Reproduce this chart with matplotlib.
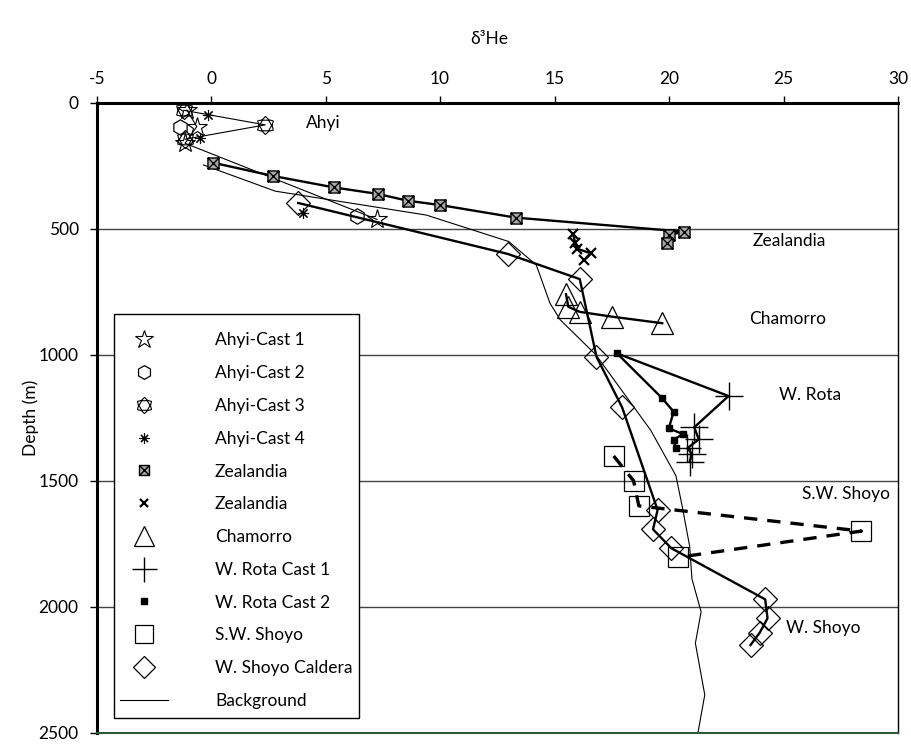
import matplotlib
matplotlib.use("Agg")
import matplotlib.pyplot as plt
from matplotlib.path import Path
from matplotlib.patches import Rectangle
import numpy as np

plt.rcParams['font.family'] = ['Lato', 'DejaVu Sans']
plt.rcParams['axes.unicode_minus'] = False

# ---------------- data ----------------
ahyi1_x = [-1.06, -0.63, -1.14, 7.24]
ahyi1_y = [29, 95, 161, 463]
ahyi2_x = [-1.35, 6.37]
ahyi2_y = [95, 450]
ahyi3_x = [-1.2, 2.36, -1.14]
ahyi3_y = [30, 88, 145]
ahyi4_x = [-0.12, -0.48, 4.0]
ahyi4_y = [49, 141, 437]
zeal1_x = [0.07, 2.72, 5.35, 7.28, 8.58, 10.0, 13.3, 20.67, 19.99, 19.9]
zeal1_y = [238, 291, 336, 362, 389, 406, 456, 512, 525, 558]
zeal2_x = [15.8, 15.9, 16.0, 16.6, 16.3]
zeal2_y = [520, 555, 580, 598, 624]
cham_x = [15.5, 15.6, 16.1, 17.5, 19.7]
cham_y = [760, 810, 830, 849, 875]
rota1_x = [17.73, 22.6, 21.1, 21.3, 20.8, 21.0, 20.9]
rota1_y = [995, 1164, 1288, 1336, 1371, 1394, 1424]
rota2_x = [17.73, 19.7, 20.2, 19.99, 20.6, 20.2, 20.3]
rota2_y = [995, 1173, 1226, 1292, 1315, 1338, 1371]
swshoyo_x = [17.58, 18.45, 18.68, 28.4, 20.4]
swshoyo_y = [1402, 1500, 1600, 1700, 1804]
wshoyo_x = [3.8, 12.95, 16.1, 16.83, 17.95, 19.5, 19.3, 20.1, 24.2, 24.3, 23.96, 23.56]
wshoyo_y = [398, 600, 700, 1008, 1209, 1616, 1693, 1768, 1971, 2046, 2103, 2152]
bg_x = [-0.34, 2.8, 9.4, 13.0, 14.2, 14.8, 15.25, 16.8, 19.2, 20.3, 20.57, 20.9, 21.0, 21.4, 21.15, 21.56, 21.27]
bg_y = [247, 351, 446, 551, 644, 796, 862, 1000, 1300, 1480, 1600, 1760, 1890, 2020, 2145, 2350, 2496]

site_labels = ["Ahyi", "Zealandia", "Chamorro", "W. Rota", "S.W. Shoyo", "W. Shoyo"]
site_lx = [4.15, 23.65, 23.5, 24.8, 25.8, 25.1]
site_ly = [82, 549, 859, 1160, 1553, 2084]

# ---------------- custom markers ----------------
def sun_marker():
    ang = np.deg2rad(np.arange(12) * 30 + 90)
    r = np.where(np.arange(12) % 2 == 0, 1.25, 0.92)
    outer = np.column_stack([r * np.cos(ang), r * np.sin(ang)])
    a2 = np.deg2rad(np.arange(6) * 60 + 120)
    inner = np.column_stack([0.85 * np.cos(a2), 0.85 * np.sin(a2)])
    verts = list(outer) + [outer[0]] + list(inner) + [inner[0]]
    codes = [Path.MOVETO] + [Path.LINETO] * 11 + [Path.CLOSEPOLY] + \
            [Path.MOVETO] + [Path.LINETO] * 5 + [Path.CLOSEPOLY]
    return Path(verts, codes)

def boxx_marker():
    verts = [(-1, -1), (1, -1), (1, 1), (-1, 1), (-1, -1),
             (-1, -1), (1, 1), (-1, 1), (1, -1)]
    codes = [Path.MOVETO, Path.LINETO, Path.LINETO, Path.LINETO, Path.CLOSEPOLY,
             Path.MOVETO, Path.LINETO, Path.MOVETO, Path.LINETO]
    return Path(verts, codes)

W, H = 911, 744
fig = plt.figure(figsize=(W / 100, H / 100), dpi=100)
ax = fig.add_axes([96.7 / W, 1 - 732.7 / H, (898 - 96.7) / W, (732.7 - 102.7) / H])

thin = 0.8
thick = 1.7
FS = 12.5

ax.plot(bg_x, bg_y, color='black', lw=0.8, label='Background', zorder=2)

ax.plot(ahyi1_x, ahyi1_y, color='black', lw=thin, marker='*', ms=15, mfc='none',
        mec='black', mew=0.8, label='Ahyi-Cast 1', zorder=4)
ax.plot(ahyi2_x, ahyi2_y, color='black', lw=0, marker='h', ms=11, mfc='none',
        mec='black', mew=0.9, label='Ahyi-Cast 2', zorder=4)
ax.plot(ahyi3_x, ahyi3_y, color='black', lw=thin, marker=sun_marker(), ms=13, mfc='none',
        mec='black', mew=0.8, label='Ahyi-Cast 3', zorder=4)
ax.plot(ahyi4_x, ahyi4_y, color='black', lw=0, marker=(8, 2, 0), ms=8,
        mec='black', mew=0.8, label='Ahyi-Cast 4', zorder=4)
ax.plot(zeal1_x, zeal1_y, color='black', lw=thick, marker=boxx_marker(), ms=8,
        mfc='#aaaaaa', mec='black', mew=1.0, label='Zealandia', zorder=4)
ax.plot(zeal2_x, zeal2_y, color='black', lw=thick, marker='x', ms=7,
        mec='black', mew=1.6, label='Zealandia', zorder=4)
ax.plot(cham_x, cham_y, color='black', lw=thick, marker='^', ms=16, mfc='none',
        mec='black', mew=0.9, label='Chamorro', zorder=4)
ax.plot(rota1_x, rota1_y, color='black', lw=thick, marker='+', ms=20,
        mec='black', mew=1.0, markevery=list(range(1, len(rota1_x))),
        label='W. Rota Cast 1', zorder=4)
ax.plot(rota2_x, rota2_y, color='black', lw=thick, marker='s', ms=5,
        mfc='black', mec='black', label='W. Rota Cast 2', zorder=5)
ax.plot(swshoyo_x, swshoyo_y, color='black', lw=2.4, ls=(0, (4, 3)), marker='s', ms=15,
        mfc='none', mec='black', mew=0.9, label='S.W. Shoyo', zorder=4)
ax.plot(wshoyo_x, wshoyo_y, color='black', lw=thick, marker='D', ms=12, mfc='none',
        mec='black', mew=0.9, label='W. Shoyo Caldera', zorder=4)

for t, x, y in zip(site_labels, site_lx, site_ly):
    ax.text(x, y, t, fontsize=FS, ha='left', va='center')

ax.set_xlim(-5, 30)
ax.set_ylim(2500, 0)
ax.set_xticks(np.arange(-5, 31, 5))
ax.set_yticks(np.arange(0, 2501, 500))
ax.xaxis.tick_top()
ax.xaxis.set_label_position('top')
ax.set_xlabel('δ³He', fontsize=FS)
ax.set_ylabel('Depth (m)', fontsize=FS)
ax.xaxis.set_label_coords(0.49, 1.093)
ax.yaxis.set_label_coords(-0.0725, 0.5)
ax.tick_params(axis='both', labelsize=12.5, direction='out', length=5, width=1)
ax.tick_params(axis='x', pad=6)
ax.tick_params(axis='y', pad=8)

for yv in [500, 1000, 1500, 2000]:
    ax.axhline(yv, color='#444444', lw=1.0, zorder=1)

ax.spines['top'].set_linewidth(2.2)
ax.spines['left'].set_linewidth(2.2)
ax.spines['right'].set_linewidth(1.0)
ax.spines['bottom'].set_linewidth(1.5)
ax.spines['bottom'].set_color('#2d5a3d')

# legend frame drawn separately
frame = Rectangle((114 / W, 1 - 718 / H), (359 - 114) / W, (718 - 314) / H,
                  transform=fig.transFigure, facecolor='white', edgecolor='black',
                  lw=1.0, zorder=4.5)
ax.add_patch(frame)
frame.set_clip_on(False)

handles, labels = ax.get_legend_handles_labels()
order = labels[1:] + labels[:1]
hdict = handles[1:] + handles[:1]
leg = ax.legend(hdict, order, loc='upper left',
                bbox_to_anchor=(120 / W, 1 - 332.5 / H), bbox_transform=fig.transFigure,
                fontsize=FS, frameon=False, handlelength=2.77, handletextpad=2.7,
                labelspacing=0.965, borderpad=0, borderaxespad=0, markerscale=0.9)
leg.set_zorder(6)
for line in leg.get_lines()[:-1]:
    line.set_linestyle('none')

fig.savefig('out.png', dpi=100)
